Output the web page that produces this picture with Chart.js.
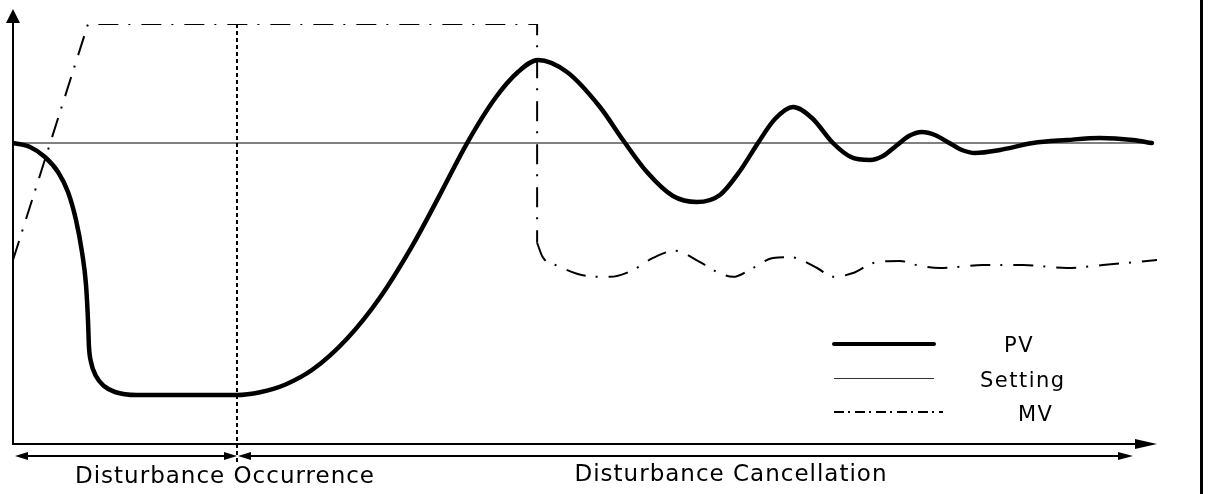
<!DOCTYPE html>
<html>
<head>
<meta charset="utf-8">
<title>PV / MV response</title>
<script src="https://cdn.jsdelivr.net/npm/chart.js@4.4.1/dist/chart.umd.min.js"></script>
<style>
    html, body { margin: 0; padding: 0; background: #fff; }
    #wrap { position: relative; width: 1210px; height: 494px; }
</style>
</head>
<body>
<div id="wrap"><canvas id="pvChart"></canvas></div>
<script>
// time axis (arbitrary units) and values (% of MV range)
const pvTime = [0, 3.04, 5.71, 8.04, 9.82, 11.25, 12.32, 13.04, 13.39, 13.57, 13.93, 14.82, 16.25, 18.21, 22.14,
    40, 44.11, 48.57, 53.57, 59.64, 65.54, 71.43, 76.25, 81.07, 86.07, 90.18, 93.75,
    98.93, 104.82, 108.93, 113.21, 117.86, 122.14, 126.25, 129.82, 133.04, 136.07, 139.29,
    142.68, 146.43, 149.64, 153.04, 155.36, 157.68, 160.0, 162.32, 164.64, 167.05, 169.46, 171.79,
    176.25, 182.14, 188.21, 194.11, 200, 203.39];
const pvValues = [71.67, 70.71, 68.33, 64.76, 60.0, 53.33, 45.71, 37.86, 29.52, 23.1, 19.52, 16.19, 13.81, 12.38, 11.67,
    11.67, 12.33, 14.12, 17.79, 25.07, 34.9, 47.48, 59.38, 71.6, 82.26, 88.57, 91.43,
    88.57, 80.24, 72.38, 64.76, 59.05, 57.62, 59.29, 65.0, 71.67, 77.38, 80.24,
    77.62, 71.67, 68.33, 67.62, 68.57, 70.95, 73.33, 74.29, 73.57, 71.79, 70.0, 69.29,
    70.0, 71.67, 72.38, 72.86, 72.38, 71.67];

const settingTime = [0, 203.4];
const settingValues = [71.67, 71.67];

// MV: ramp, saturation, step down at cancellation
const mvStepTime = [0, 13.4, 93.6, 93.6];
const mvStepValues = [43.8, 100, 100, 47.9];
// MV: oscillating tail after the step
const mvTailTime = [93.6, 94.6, 97.3, 102.5, 106.6, 110.7, 114.3, 118.2, 122.7, 125.7, 128.6, 132.1, 135.7, 138.75,
    143.6, 146.4, 150.0, 153.6, 158.4, 161.4, 165.5, 173.2, 180.4, 188.2, 194.6, 204.3];
const mvTailValues = [47.9, 44.5, 42.4, 40.0, 39.8, 41.4, 44.3, 46.0, 43.3, 41.0, 39.8, 41.9, 44.3, 44.5,
    41.9, 39.8, 40.7, 43.1, 43.6, 42.6, 41.9, 42.6, 42.6, 41.9, 42.6, 43.8];

const disturbanceTime = 40;
const seriesNames = ['PV', 'Setting', 'MV'];
const zoneLabels = ['Disturbance Occurrence', 'Disturbance Cancellation'];

function toPoints(xs, ys) {
    return xs.map((x, i) => ({ x: x, y: ys[i] }));
}

function arrowHead(ctx, tipX, tipY, dx, dy, len, half) {
    // dx,dy = unit direction of the arrow
    const bx = tipX - dx * len, by = tipY - dy * len;
    ctx.beginPath();
    ctx.moveTo(tipX, tipY);
    ctx.lineTo(bx - dy * half, by + dx * half);
    ctx.lineTo(bx + dy * half, by - dx * half);
    ctx.closePath();
    ctx.fill();
}

function line(ctx, x1, y1, x2, y2) {
    ctx.beginPath();
    ctx.moveTo(x1, y1);
    ctx.lineTo(x2, y2);
    ctx.stroke();
}

// axes, arrows, zone labels, legend and frame
const schematicPlugin = {
    id: 'schematic',
    beforeDatasetsDraw(chart) {
        const ctx = chart.ctx;
        const xs = chart.scales.x, ys = chart.scales.y;
        const x0 = xs.getPixelForValue(0), y0 = ys.getPixelForValue(0);
        const xEnd = xs.right;
        ctx.save();
        ctx.strokeStyle = '#000';
        ctx.fillStyle = '#000';
        ctx.lineWidth = 2;
        line(ctx, x0, y0 + 1, x0, 20);
        arrowHead(ctx, x0, 9, 0, -1, 14, 7);
        line(ctx, x0, y0, xEnd - 18, y0);
        arrowHead(ctx, xEnd, y0, 1, 0, 22, 5);
        ctx.restore();
    },
    afterDraw(chart) {
        const ctx = chart.ctx;
        const xs = chart.scales.x, ys = chart.scales.y;
        const x0 = xs.getPixelForValue(0), y0 = ys.getPixelForValue(0);
        const xEnd = xs.right;
        const xd = xs.getPixelForValue(disturbanceTime);
        const ya = y0 + 12;
        ctx.save();
        ctx.strokeStyle = '#000';
        ctx.fillStyle = '#000';
        ctx.lineWidth = 2;

        // zone arrows under the time axis
        line(ctx, x0 + 8, ya, xd - 8, ya);
        arrowHead(ctx, x0 + 2, ya, -1, 0, 13, 4);
        arrowHead(ctx, xd, ya, 1, 0, 13, 4);
        line(ctx, xd + 8, ya, xEnd - 30, ya);
        arrowHead(ctx, xd + 1, ya, -1, 0, 13, 4);
        arrowHead(ctx, xEnd - 24, ya, 1, 0, 15, 4);

        // zone labels
        ctx.font = '23px "DejaVu Sans"';
        ctx.letterSpacing = '1px';
        ctx.textAlign = 'center';
        ctx.textBaseline = 'alphabetic';
        ctx.fillText(zoneLabels[0], 225, 483);
        ctx.fillText(zoneLabels[1], 731, 481);

        // legend
        ctx.lineCap = 'round';
        ctx.lineWidth = 4;
        line(ctx, 834, 344, 934, 344);
        ctx.lineCap = 'butt';
        ctx.lineWidth = 1.2;
        ctx.strokeStyle = '#333';
        line(ctx, 834, 378.5, 934, 378.5);
        ctx.strokeStyle = '#000';
        ctx.lineWidth = 2;
        ctx.setLineDash([10, 4, 2, 5]);
        line(ctx, 834, 412, 943, 412);
        ctx.setLineDash([]);

        ctx.font = '21px "DejaVu Sans"';
        ctx.letterSpacing = '1.5px';
        ctx.textAlign = 'left';
        ctx.fillText(seriesNames[0], 1004, 352);
        ctx.fillText(seriesNames[1], 980, 387);
        ctx.fillText(seriesNames[2], 1018, 421);

        // right frame line
        ctx.fillRect(1200, 0, 3, chart.height);
        ctx.restore();
    }
};

function createChart() {
    const ctx = document.getElementById('pvChart');
    const mvDash = [20, 10, 2, 11];
    new Chart(ctx, {
        type: 'line',
        data: {
            datasets: [{
                label: seriesNames[0],
                data: toPoints(pvTime, pvValues),
                borderColor: '#000',
                borderWidth: 4.5,
                borderCapStyle: 'round',
                borderJoinStyle: 'round',
                cubicInterpolationMode: 'monotone',
                pointRadius: 0,
                order: 0
            }, {
                label: seriesNames[1],
                data: toPoints(settingTime, settingValues),
                borderColor: '#808080',
                borderWidth: 2,
                pointRadius: 0,
                order: 3
            }, {
                label: seriesNames[2],
                data: toPoints(mvStepTime, mvStepValues),
                borderColor: '#000',
                borderWidth: 2,
                borderDash: mvDash,
                tension: 0,
                pointRadius: 0,
                order: 1
            }, {
                label: seriesNames[2] + ' tail',
                data: toPoints(mvTailTime, mvTailValues),
                borderColor: '#000',
                borderWidth: 2,
                borderDash: mvDash,
                cubicInterpolationMode: 'monotone',
                pointRadius: 0,
                order: 1
            }, {
                label: 'disturbance',
                data: [{ x: disturbanceTime, y: 100 }, { x: disturbanceTime, y: -4.3 }],
                borderColor: '#000',
                borderWidth: 2,
                borderDash: [4, 3],
                pointRadius: 0,
                clip: false,
                order: 2
            }]
        },
        options: {
            responsive: true,
            maintainAspectRatio: false,
            animation: false,
            devicePixelRatio: 1,
            layout: { padding: { left: 13, right: 53, top: 24, bottom: 50 } },
            scales: {
                x: { type: 'linear', min: 0, max: 204.3, display: false },
                y: { type: 'linear', min: 0, max: 100, display: false }
            },
            plugins: {
                legend: { display: false },
                tooltip: { enabled: false }
            }
        },
        plugins: [schematicPlugin]
    });
}

document.addEventListener('DOMContentLoaded', function() {
    Chart.defaults.font.family = '"DejaVu Sans"';
    createChart();
});
</script>
</body>
</html>
